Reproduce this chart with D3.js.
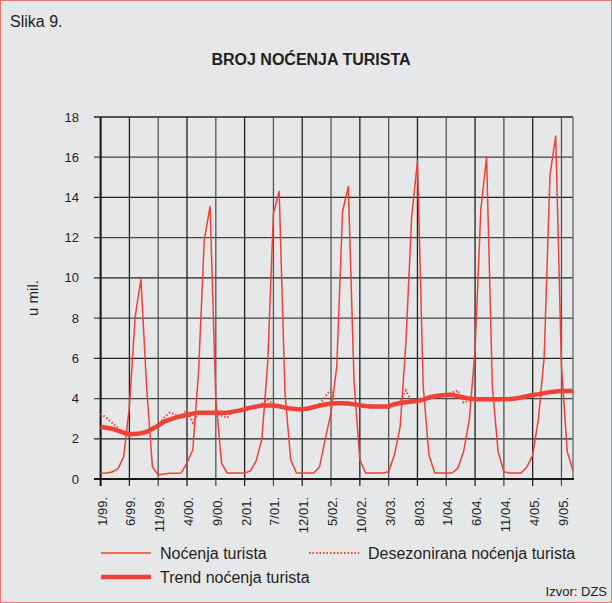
<!DOCTYPE html>
<html>
<head>
<meta charset="utf-8">
<script src="https://cdn.jsdelivr.net/npm/d3@7"></script>
<style>
  body { margin: 0; background: #fff; }
  svg { display: block; font-family: "Liberation Sans", Arial, sans-serif; }
</style>
</head>
<body>
<svg id="chart" width="612" height="603"></svg>
<script>
// monthly data, 1/99 .. 11/05 (83 months), million nights
var nocenja = [
  0.28, 0.3, 0.35, 0.5, 1.1, 3.6, 8.07, 9.93, 4.5, 0.6, 0.2, 0.25,
  0.28, 0.28, 0.3, 0.8, 1.44, 5.3, 11.9, 13.55, 4.0, 0.78, 0.28, 0.3,
  0.3, 0.3, 0.4, 0.9, 2.0, 5.75, 13.2, 14.3, 4.3, 0.95, 0.3, 0.3,
  0.3, 0.3, 0.6, 2.0, 3.3, 5.6, 13.3, 14.54, 4.8, 0.95, 0.3, 0.3,
  0.3, 0.3, 0.36, 1.2, 2.6, 6.8, 13.05, 15.8, 4.6, 1.19, 0.3, 0.3,
  0.3, 0.3, 0.53, 1.36, 2.94, 6.4, 13.4, 16.03, 4.6, 1.36, 0.36, 0.3,
  0.3, 0.3, 0.6, 1.19, 3.0, 6.08, 15.1, 17.06, 5.6, 1.36, 0.41
];

var desezonirana = [
  3.25, 3.05, 2.8, 2.55, 2.3, 2.15, 2.2, 2.25, 2.3, 2.45, 2.65, 3.05,
  3.3, 3.2, 3.15, 3.45, 2.8, 3.3, 3.3, 3.3, 3.25, 3.15, 3.05, 3.4,
  3.4, 3.5, 3.55, 3.65, 3.75, 3.95, 3.7, 3.6, 3.55, 3.5, 3.5, 3.45,
  3.45, 3.55, 3.7, 4.1, 4.45, 3.75, 3.75, 3.7, 3.7, 3.65, 3.6, 3.55,
  3.55, 3.6, 3.5, 3.7, 3.8, 4.4, 3.85, 3.85, 3.95, 4.1, 4.15, 4.15,
  4.2, 4.3, 4.4, 3.8, 3.9, 3.95, 4.0, 3.95, 4.0, 3.95, 3.95, 4.0,
  4.0, 4.05, 4.1, 4.2, 4.2, 4.25, 4.3, 4.35, 4.35, 4.4, 4.35
];

var trend = [
  2.6, 2.55, 2.5, 2.4, 2.3, 2.24, 2.24, 2.27, 2.35, 2.5, 2.65, 2.85,
  2.95, 3.05, 3.12, 3.18, 3.25, 3.3, 3.3, 3.3, 3.3, 3.3, 3.3, 3.35,
  3.4, 3.47, 3.55, 3.6, 3.65, 3.65, 3.65, 3.62, 3.55, 3.5, 3.48, 3.47,
  3.5, 3.58, 3.65, 3.7, 3.75, 3.77, 3.77, 3.75, 3.72, 3.67, 3.63, 3.6,
  3.6, 3.6, 3.62, 3.72, 3.78, 3.82, 3.85, 3.88, 3.95, 4.05, 4.12, 4.15,
  4.18, 4.18, 4.12, 4.05, 4.0, 3.97, 3.97, 3.97, 3.97, 3.97, 3.97, 3.98,
  4.0, 4.05, 4.12, 4.18, 4.22, 4.27, 4.32, 4.35, 4.37, 4.38, 4.38
];

var tickLabels = ['1/99.', '6/99.', '11/99.', '4/00.', '9/00.', '2/01.', '7/01.', '12/01.',
  '5/02.', '10/02.', '3/03.', '8/03.', '1/04.', '6/04.', '11/04.', '4/05.', '9/05.'];
var yTicks = [0, 2, 4, 6, 8, 10, 12, 14, 16, 18];

var red = '#ef4136';
var ink = '#231f20';

var svg = d3.select('#chart');

svg.append('rect')
  .attr('x', 0.5).attr('y', 0.5)
  .attr('width', 611).attr('height', 602)
  .attr('fill', '#e6e7e9')
  .attr('stroke', '#e9756f');

svg.append('text')
  .attr('x', 10).attr('y', 27)
  .attr('font-size', 16).attr('fill', ink)
  .text('Slika 9.');

svg.append('text')
  .attr('x', 311).attr('y', 65)
  .attr('text-anchor', 'middle')
  .attr('font-size', 16).attr('font-weight', 'bold').attr('fill', ink)
  .text('BROJ NOĆENJA TURISTA');

var x = d3.scaleLinear().domain([0, nocenja.length - 1]).range([100.6, 573]);
var y = d3.scaleLinear().domain([0, 18]).range([479, 117]);

var grid = svg.append('g');

// horizontal grid + y ticks
grid.selectAll('line.h').data(yTicks).enter()
  .append('line')
  .attr('class', 'h')
  .attr('x1', 94).attr('x2', 573)
  .attr('y1', function(d) { return y(d); })
  .attr('y2', function(d) { return y(d); })
  .attr('stroke', function(d, i) { return i % 2 ? '#222' : '#444'; })
  .attr('stroke-width', 1.3);

// vertical grid, one per labelled month
grid.selectAll('line.v').data(tickLabels).enter()
  .append('line')
  .attr('class', 'v')
  .attr('x1', function(d, i) { return x(i * 5); })
  .attr('x2', function(d, i) { return x(i * 5); })
  .attr('y1', 117).attr('y2', 486)
  .attr('stroke', function(d, i) { return i % 2 ? '#222' : '#555'; })
  .attr('stroke-width', 1.3);

// right border
grid.append('line')
  .attr('x1', 573).attr('x2', 573).attr('y1', 117).attr('y2', 479)
  .attr('stroke', '#666').attr('stroke-width', 1.3);

// axes
grid.append('line')
  .attr('x1', 100.6).attr('x2', 100.6).attr('y1', 117).attr('y2', 486)
  .attr('stroke', '#1a1a1a').attr('stroke-width', 2);
grid.append('line')
  .attr('x1', 94).attr('x2', 574).attr('y1', 479).attr('y2', 479)
  .attr('stroke', '#1a1a1a').attr('stroke-width', 2);

svg.append('g').selectAll('text').data(yTicks).enter()
  .append('text')
  .attr('x', 79)
  .attr('y', function(d) { return y(d); })
  .attr('dy', '0.35em')
  .attr('text-anchor', 'end')
  .attr('font-size', 13).attr('fill', ink)
  .text(function(d) { return d; });

svg.append('g').selectAll('text').data(tickLabels).enter()
  .append('text')
  .attr('transform', function(d, i) {
    return 'translate(' + (x(i * 5) + 1.5) + ',497) rotate(-90)';
  })
  .attr('dy', '0.35em')
  .attr('text-anchor', 'end')
  .attr('font-size', 13).attr('fill', ink)
  .text(function(d) { return d; });

svg.append('text')
  .attr('transform', 'translate(38,298) rotate(-90)')
  .attr('text-anchor', 'middle')
  .attr('font-size', 15).attr('fill', ink)
  .text('u mil.');

var line = d3.line()
  .x(function(d, i) { return x(i); })
  .y(function(d) { return y(d); });

var plot = svg.append('g');

plot.append('path')
  .datum(trend)
  .attr('d', line)
  .attr('fill', 'none')
  .attr('stroke', red)
  .attr('stroke-width', 4.5)
  .attr('stroke-linejoin', 'round');

plot.append('path')
  .datum(desezonirana)
  .attr('d', line)
  .attr('fill', 'none')
  .attr('stroke', red)
  .attr('stroke-width', 2)
  .attr('stroke-dasharray', '1.5,2');

plot.append('path')
  .datum(nocenja)
  .attr('d', line)
  .attr('fill', 'none')
  .attr('stroke', red)
  .attr('stroke-width', 1.5)
  .attr('stroke-linejoin', 'round');

// legend
var legend = svg.append('g').attr('font-size', 16).attr('fill', ink);
var items = [
  { label: 'Noćenja turista', x: 101, y: 553, w: 1.5, dash: null },
  { label: 'Desezonirana noćenja turista', x: 309, y: 553, w: 2, dash: '1.5,2' },
  { label: 'Trend noćenja turista', x: 101, y: 577, w: 4.5, dash: null }
];
items.forEach(function(it) {
  legend.append('line')
    .attr('x1', it.x).attr('x2', it.x + 50)
    .attr('y1', it.y).attr('y2', it.y)
    .attr('stroke', red).attr('stroke-width', it.w)
    .attr('stroke-dasharray', it.dash);
  legend.append('text')
    .attr('x', it.x + 59).attr('y', it.y + 6)
    .text(it.label);
});

svg.append('text')
  .attr('x', 607).attr('y', 596)
  .attr('text-anchor', 'end')
  .attr('font-size', 13).attr('fill', ink)
  .text('Izvor: DZS');
</script>
</body>
</html>
